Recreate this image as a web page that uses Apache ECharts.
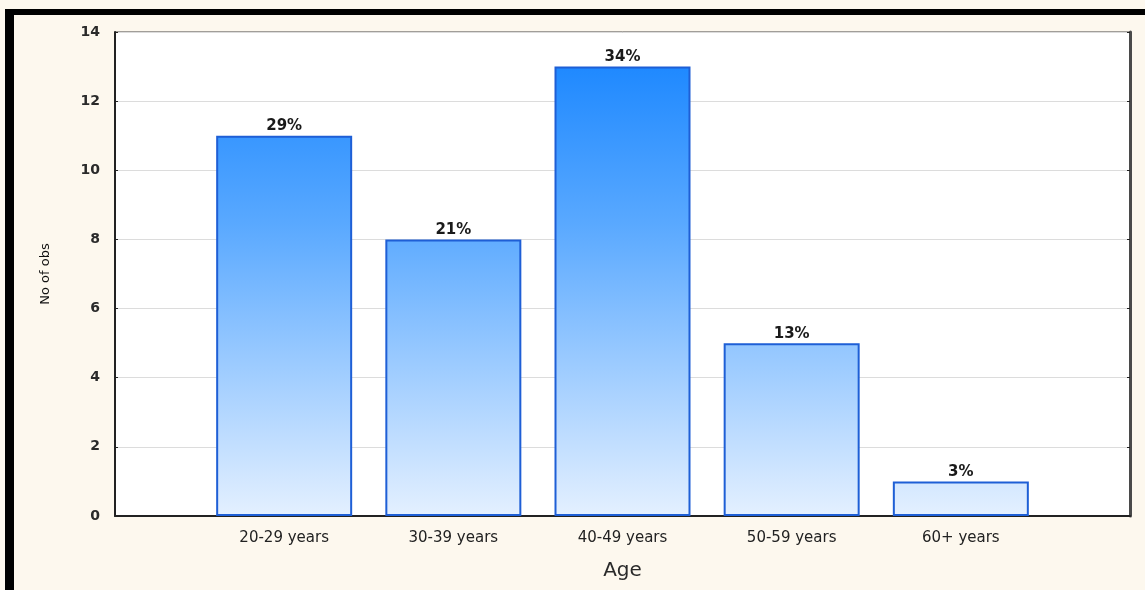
<!DOCTYPE html>
<html>
<head>
<meta charset="utf-8">
<title>No of obs by Age</title>
<script src="https://cdn.jsdelivr.net/npm/echarts@6/dist/echarts.min.js"></script>
<style>
  html, body { margin: 0; padding: 0; background: #fdf8ee; overflow: hidden; }
  #chart { width: 1145px; height: 590px; }
</style>
</head>
<body>
<div id="chart"></div>
<script>
// Age groups (padded with empty slots so the bars sit at 1..5 on a 0..6 scale)
const categories = ['', '20-29 years', '30-39 years', '40-49 years', '50-59 years', '60+ years', ''];
// Number of observations per age group
const counts = ['-', 11, 8, 13, 5, 1, '-'];
// Y axis scale
const yMin = 0, yMax = 14, yStep = 2;

const total = counts.filter(v => typeof v === 'number').reduce((a, b) => a + b, 0);

const FONT = '"DejaVu Sans", Verdana, sans-serif';
const chart = echarts.init(document.getElementById('chart'));

const PLOT_TOP = 32, PLOT_BOTTOM = 516;

chart.setOption({
  backgroundColor: '#fdf8ee',
  animation: false,
  textStyle: { fontFamily: FONT },
  graphic: [
    { type: 'rect', shape: { x: 5, y: 9, width: 1140, height: 6 }, style: { fill: '#000' }, silent: true },
    { type: 'rect', shape: { x: 5, y: 9, width: 9, height: 581 }, style: { fill: '#000' }, silent: true }
  ],
  grid: {
    left: 115, right: 15, top: PLOT_TOP, bottom: 590 - PLOT_BOTTOM,
    outerBoundsMode: 'none',
    containLabel: false,
    show: true, backgroundColor: '#ffffff', borderColor: '#444', borderWidth: 1
  },
  xAxis: {
    type: 'category',
    data: categories,
    boundaryGap: false,
    name: 'Age',
    nameLocation: 'middle',
    nameGap: 45,
    nameTextStyle: { fontSize: 20, color: '#2a2a2a', fontFamily: FONT },
    axisLine: { lineStyle: { color: '#222', width: 2 } },
    axisTick: {
      show: true, inside: true, length: 3,
      interval: (i) => i > 0 && i < categories.length - 1,
      lineStyle: { color: '#222', width: 2 }
    },
    axisLabel: { fontSize: 15, color: '#222', margin: 15, interval: 0, fontFamily: FONT },
    splitLine: { show: false }
  },
  yAxis: [
    {
      type: 'value',
      min: yMin, max: yMax, interval: yStep,
      name: 'No of obs',
      nameLocation: 'middle',
      nameGap: 63,
      nameRotate: 90,
      nameTextStyle: { fontSize: 13, color: '#111', fontFamily: FONT },
      axisLine: { show: true, lineStyle: { color: '#222', width: 2 } },
      axisTick: { show: true, inside: true, length: 3, lineStyle: { color: '#222' } },
      axisLabel: { fontSize: 14, color: '#2a2a2a', margin: 15, fontWeight: 'bold', fontFamily: FONT },
      splitLine: { show: true, lineStyle: { color: '#dcdcdc', width: 1 } }
    },
    {
      type: 'value',
      position: 'right',
      min: yMin, max: yMax, interval: yStep,
      axisLine: { show: true, lineStyle: { color: '#4a4a4a', width: 3 } },
      axisTick: { show: true, inside: true, length: 3, lineStyle: { color: '#222' } },
      axisLabel: { show: false },
      splitLine: { show: false }
    }
  ],
  series: [{
    type: 'bar',
    data: counts,
    barWidth: 136,
    itemStyle: {
      color: {
        type: 'linear', x: 0, y: PLOT_TOP, x2: 0, y2: PLOT_BOTTOM, global: true,
        colorStops: [
          { offset: 0, color: '#1282ff' },
          { offset: 0.4, color: '#5aa9ff' },
          { offset: 1, color: '#e4f0ff' }
        ]
      },
      borderColor: '#1e5fd6',
      borderWidth: 2
    },
    label: {
      show: true,
      position: 'top',
      distance: 2,
      fontSize: 15,
      fontWeight: 'bold',
      color: '#1a1a1a',
      fontFamily: FONT,
      formatter: (p) => Math.round(p.value / total * 100) + '%'
    }
  }]
});
</script>
</body>
</html>
